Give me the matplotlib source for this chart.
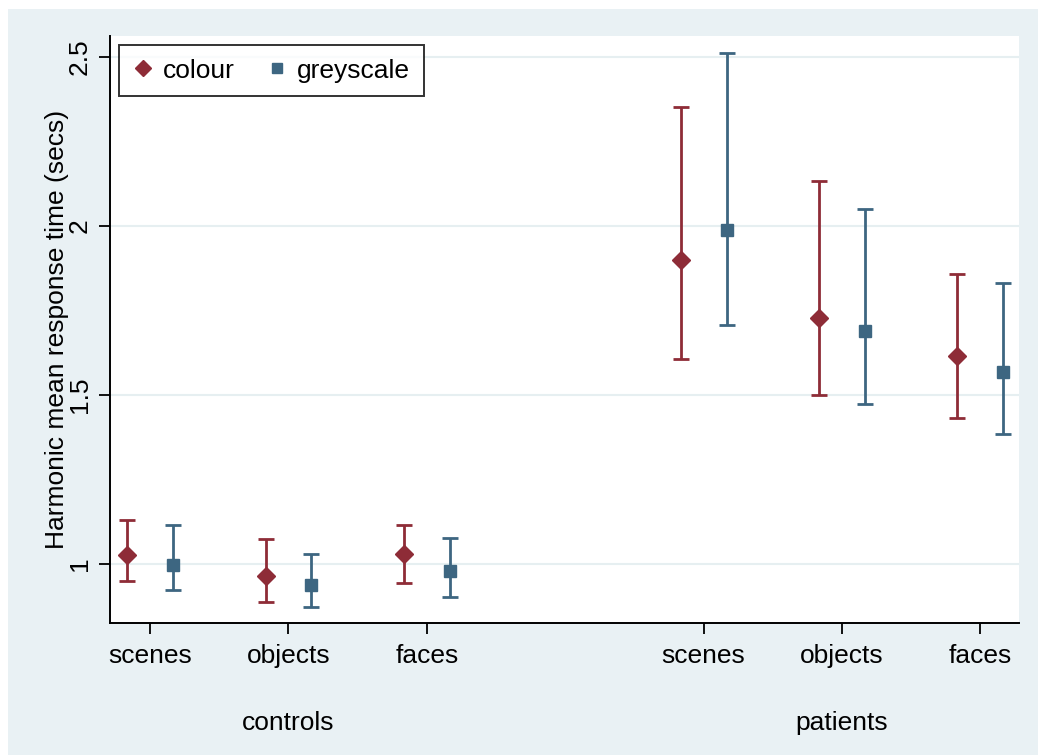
import matplotlib
matplotlib.use("Agg")
import matplotlib.pyplot as plt
import numpy as np
from matplotlib.patches import Rectangle

plt.rcParams['font.family'] = ['Liberation Sans', 'DejaVu Sans']

# harmonic mean response times (secs) with CI bounds
conditions = ["scenes", "objects", "faces"]
groups = ["controls", "patients"]

colour_mean = [1.027, 0.965, 1.030, 1.900, 1.728, 1.615]
colour_lo = [0.950, 0.888, 0.942, 1.607, 1.501, 1.433]
colour_hi = [1.130, 1.073, 1.116, 2.352, 2.133, 1.859]

grey_mean = [0.997, 0.938, 0.978, 1.987, 1.688, 1.568]
grey_lo = [0.922, 0.872, 0.903, 1.708, 1.474, 1.383]
grey_hi = [1.114, 1.030, 1.076, 2.512, 2.049, 1.831]

red = "#8E2C37"
blue = "#3D6681"
bg = "#E9F1F4"
fs = 19

W, H = 1038, 755
fig = plt.figure(figsize=(W / 100, H / 100), dpi=100, facecolor="white")
fig.patches.append(Rectangle((8 / W, 0), 1, 1 - 9 / H, transform=fig.transFigure,
                             facecolor=bg, edgecolor="none", zorder=-10))

ax = fig.add_axes([110 / W, (H - 623) / H, (1019 - 110) / W, (623 - 36) / H])
ax.set_facecolor("white")

x = np.array([1, 2, 3, 5, 6, 7])
off = 0.166

def draw(xs, m, lo, hi, color, marker, ms):
    m = np.array(m)
    yerr = [m - np.array(lo), np.array(hi) - m]
    ax.errorbar(xs, m, yerr=yerr, fmt=marker, color=color, ms=ms,
                elinewidth=2.0, capsize=6, capthick=2.0, zorder=3)

draw(x - off, colour_mean, colour_lo, colour_hi, red, "D", 9.5)
draw(x + off, grey_mean, grey_lo, grey_hi, blue, "s", 8)

ax.set_xlim(0.71, 7.28)
ax.set_ylim(0.825, 2.562)
ax.set_yticks([1, 1.5, 2, 2.5])
ax.set_yticklabels(["1", "1.5", "2", "2.5"], rotation=90, va="center")
ax.set_xticks(x)
ax.set_xticklabels(conditions * 2)
ax.tick_params(labelsize=fs, length=8, width=1.3, color="black", pad=5)
ax.tick_params(axis="x", pad=7)
ax.grid(axis="y", color="#E6EFF1", lw=1.5)
ax.set_axisbelow(True)
for s in ["top", "right"]:
    ax.spines[s].set_visible(False)
for s in ["left", "bottom"]:
    ax.spines[s].set_linewidth(1.4)

ax.set_ylabel("Harmonic mean response time (secs)", fontsize=fs, labelpad=-1)

# group labels under the tick labels
for gx, g in zip([2, 6], groups):
    ax.text(gx, -0.17, g, transform=ax.get_xaxis_transform(), ha="center",
            va="center", fontsize=fs)

# legend with marker-only keys
h1 = ax.plot([], [], "D", color=red, ms=8)[0]
h2 = ax.plot([], [], "s", color=blue, ms=7)[0]
leg = ax.legend([h1, h2], ["colour", "greyscale"], ncol=2, loc="upper left",
                bbox_to_anchor=(0.01, 0.985), borderaxespad=0, fontsize=fs,
                frameon=True, fancybox=False, edgecolor="black",
                handlelength=0.8, handletextpad=0.35, columnspacing=1.2,
                borderpad=0.52)
leg.get_frame().set_linewidth(1.4)

fig.savefig("out.png", dpi=100, facecolor="white")
